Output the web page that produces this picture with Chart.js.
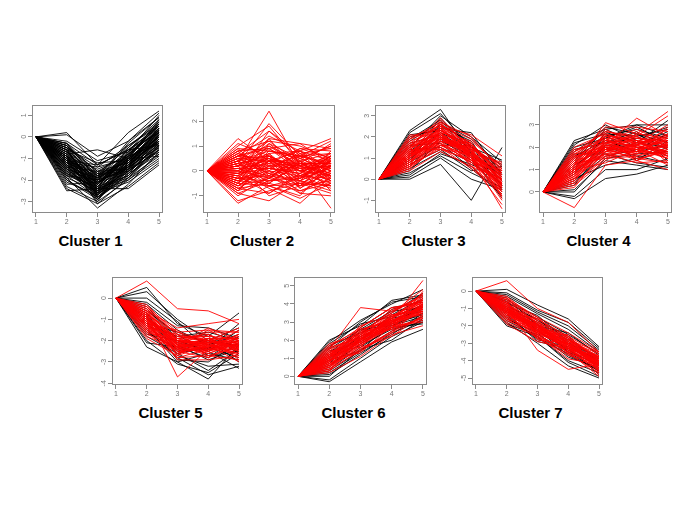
<!DOCTYPE html>
<html>
<head>
<meta charset="utf-8">
<script src="https://cdn.jsdelivr.net/npm/chart.js@4.4.0/dist/chart.umd.min.js"></script>
<style>
  html, body { margin: 0; padding: 0; background: #fff; }
  body { width: 685px; height: 513px; position: relative; overflow: hidden; font-family: "Liberation Sans", Arial, sans-serif; }
  .panel { position: absolute; }
  .title { position: absolute; width: 140px; text-align: center; font-weight: bold; font-size: 15px; line-height: 18px; color: #000; }
</style>
</head>
<body>
<script>
// time points on the x axis (same for every cluster)
const timePoints = [1, 2, 3, 4, 5];

// y tick labels per cluster
const ticks1 = [-3, -2, -1, 0, 1];
const ticks2 = [-1, 0, 1, 2];
const ticks3 = [-1, 0, 1, 2, 3];
const ticks4 = [0, 1, 2, 3];
const ticks5 = [-4, -3, -2, -1, 0];
const ticks6 = [0, 1, 2, 3, 4, 5];
const ticks7 = [-5, -4, -3, -2, -1, 0];

// profiles, one row per gene
const cluster1Black = [
  [0,-1.0,-2.0,-1.2,0.0],[0,-0.5,-1.6,-0.8,0.3],[0,-1.5,-2.5,-1.6,-0.3],[0,-0.8,-2.2,-1.0,0.2],
  [0,-1.2,-1.8,-1.4,-0.5],[0,-0.3,-1.3,-0.6,0.5],[0,-2.0,-2.8,-1.8,-0.6],[0,-0.6,-2.4,-1.1,0.0],
  [0,-1.1,-2.9,-1.5,-0.2],[0,-0.9,-1.5,-0.9,0.4],[0,-1.4,-2.2,-1.0,0.6],[0,-0.4,-1.9,-1.3,-0.4],
  [0,-1.7,-2.6,-1.2,0.1],[0,-0.7,-1.7,-0.5,0.8],[0,-1.3,-2.1,-1.7,-0.8],[0,-2.3,-3.0,-2.0,-1.0],
  [0,-1.0,-3.1,-1.9,-0.4],[0,-0.2,-1.1,-0.7,0.2],[0,0.2,-1.3,0.2,1.2],[0,-2.5,-2.4,-2.4,-1.3],
  [0,-1.9,-3.3,-2.2,-0.7],[0,-0.8,-0.6,-1.0,-0.9],[0,-1.6,-2.0,-0.3,0.9],[0,-0.5,-2.7,-1.4,0.1],
  [0,-1.2,-1.4,-0.4,0.6],[0,-0.9,-2.6,-2.1,-1.1],[0,-1.8,-2.3,-0.8,0.3],[0,-0.6,-1.2,-1.1,-0.3],
  [0,-1.4,-2.9,-1.3,0.4],[0,-1.1,-1.7,-1.6,-0.6],[0,-0.3,-2.0,-0.9,0.7],[0,-2.1,-2.7,-1.5,-0.1],
  [0,-0.7,-2.3,-1.8,-0.5],[0,-1.5,-1.9,-0.6,0.2],[0,-1.0,-2.5,-0.7,1.0],[0,-0.4,-1.6,-1.5,-0.7],
  [0,-1.3,-3.0,-1.0,0.0],[0,-2.2,-2.1,-1.3,-0.2],[0,-0.8,-1.8,-0.4,0.5],[0,-1.6,-2.4,-1.9,-0.9],
  [0,0.1,-0.9,-0.2,0.9],[0,-1.2,-2.6,-1.1,0.3],[0,-0.9,-2.1,-1.4,-0.1],[0,-1.8,-2.8,-1.6,-0.4],
  [0,-0.5,-1.4,-1.0,0.1],[0,-1.1,-2.3,-0.9,0.6],[0,-1.4,-1.6,-1.2,-0.2],[0,-0.6,-2.8,-1.7,-0.3],
  [0,-2.4,-3.1,-2.3,-1.2],[0,-1.0,-1.9,-0.2,1.1],[0,-0.3,-1.7,-1.2,0.0],[0,-1.7,-2.2,-1.1,0.4],
  [0,-0.7,-2.0,-1.6,-0.6],[0,-1.3,-2.4,-0.5,0.7],[0,-1.9,-2.5,-2.0,-0.8],[0,-0.9,-2.7,-1.3,0.2],
  [0,-1.5,-2.1,-1.4,0.0],[0,-0.4,-2.2,-0.8,0.5],[0,-1.1,-1.3,-0.6,-0.4],[0,-2.0,-2.9,-1.7,-0.2],
  [0,-0.9,-1.9,-1.1,0.2],[0,-1.2,-2.3,-1.3,-0.1],[0,-0.6,-1.8,-0.9,0.4],[0,-1.5,-2.6,-1.5,-0.2],
  [0,-0.8,-2.5,-1.2,0.3],[0,-1.3,-2.0,-0.8,0.5],[0,-0.5,-2.1,-1.0,-0.2],[0,-1.1,-2.7,-1.6,0.0],
  [0,-1.7,-2.4,-1.4,-0.5],[0,-0.7,-2.2,-0.7,0.6],[0,-1.0,-2.8,-1.4,0.1],[0,-1.4,-2.3,-0.9,-0.3],
  [0,-0.4,-1.8,-1.1,0.3],[0,-1.6,-2.7,-1.2,0.2],[0,-0.9,-2.4,-1.8,-0.4],[0,-1.2,-1.9,-1.0,0.8],
  [0,-0.6,-2.6,-1.3,-0.1],[0,-1.8,-2.0,-1.5,0.1],[0,-1.0,-2.2,-0.6,0.4],[0,-1.3,-2.8,-1.9,-0.6]
];
const cluster1Red = [];

const cluster2Black = [];
const cluster2Red = [
  [0,0.3,0.5,0.1,0.2],[0,-0.4,0.2,-0.5,0.0],[0,0.6,1.0,0.4,0.7],[0,-0.7,-0.5,-0.8,-0.3],
  [0,0.1,-0.2,0.3,-0.1],[0,1.3,0.4,0.8,1.3],[0,-1.3,-0.6,-1.1,-0.5],[0,0.4,2.4,0.2,0.6],
  [0,-0.2,1.6,0.5,1.0],[0,0.8,-0.3,0.6,-0.4],[0,-0.5,0.7,-0.3,0.4],[0,0.2,1.3,1.1,0.3],
  [0,-0.9,-1.2,-0.4,-0.8],[0,0.5,0.0,-0.6,0.5],[0,-0.1,0.9,0.0,-0.6],[0,0.7,0.3,0.9,0.8],
  [0,-0.6,0.1,0.7,0.1],[0,0.0,-0.7,-1.3,-0.2],[0,1.0,1.8,0.3,1.1],[0,-0.3,-0.4,0.2,-1.5],
  [0,0.3,0.6,-0.2,-0.3],[0,-0.8,0.4,-0.7,0.2],[0,0.9,0.8,0.5,0.0],[0,-0.2,-0.9,-0.1,0.6],
  [0,0.6,1.4,0.8,0.4],[0,-1.0,-0.2,-0.9,-1.0],[0,0.2,0.2,0.6,1.2],[0,-0.5,1.1,0.1,-0.4],
  [0,0.4,-0.5,0.3,0.3],[0,-0.1,0.5,-0.4,0.8],[0,0.8,1.2,1.0,0.5],[0,-0.7,-0.9,-0.2,-0.7],
  [0,0.1,0.3,-0.9,-0.1],[0,0.5,-0.1,0.4,-0.5],[0,-0.4,0.8,0.6,0.7],[0,1.1,0.6,0.0,0.2],
  [0,-0.6,-0.3,-0.6,0.4],[0,0.0,1.0,0.2,-0.2],[0,0.3,-0.6,-0.3,0.1],[0,-0.3,0.0,0.9,0.5],
  [0,0.7,1.6,0.7,0.9],[0,-1.2,-0.8,-0.5,-0.9],[0,0.2,0.7,-0.7,0.0],[0,-0.2,0.4,0.4,-0.8],
  [0,0.6,0.1,-0.1,0.6],[0,-0.5,-0.6,-1.0,0.3],[0,0.4,1.2,0.3,-0.3],[0,-0.8,0.6,0.1,0.2],
  [0,0.9,-0.2,0.8,0.1],[0,0.0,-0.3,0.5,1.0],[0,-0.3,1.3,-0.2,0.4],[0,0.5,0.4,-0.4,-0.6],
  [0,-0.6,0.2,0.3,-0.2],[0,0.2,-1.0,-0.6,-0.4],[0,0.8,0.9,1.1,0.9],[0,-0.1,0.1,0.0,0.3],
  [0,0.3,1.9,0.6,0.2],[0,-0.9,-0.4,-0.3,0.6],[0,0.6,0.5,0.2,-0.1],[0,-0.4,-0.1,-0.8,-0.5],
  [0,0.2,0.4,0.3,0.1],[0,-0.3,-0.2,-0.4,0.2],[0,0.5,0.6,0.0,-0.2],[0,-0.6,0.3,0.2,-0.4],
  [0,0.1,-0.4,-0.2,0.5],[0,0.4,0.8,0.6,0.3],[0,-0.2,0.6,-0.6,-0.1],[0,0.7,0.2,0.1,0.4],
  [0,-0.4,-0.5,0.4,0.0],[0,0.0,0.5,-0.3,0.6],[0,0.3,-0.3,0.7,-0.3],[0,-0.7,0.0,-0.2,0.1],
  [0,0.6,0.9,0.2,0.5],[0,-0.1,-0.6,-0.5,-0.6],[0,0.2,1.1,0.5,0.0],[0,-0.5,0.4,0.0,0.7],
  [0,0.4,-0.1,-0.4,0.2],[0,-0.3,0.7,0.8,-0.2],[0,0.1,0.1,-0.1,-0.5],[0,-0.8,-0.3,0.3,0.3]
];

const cluster3Black = [
  [0,2.3,3.3,1.2,-0.3],[0,2.2,3.1,1.5,0.5],[0,0.0,0.7,-1.0,1.5],[0,0.1,1.0,0.0,-0.5],
  [0,1.8,2.7,1.9,0.6],[0,0.5,1.3,0.6,-0.8],[0,1.2,2.2,1.2,0.0],[0,0.8,1.6,1.6,0.3],
  [0,1.5,3.0,2.0,0.8],[0,0.3,1.1,0.3,-0.4],[0,1.0,1.9,0.9,-0.6],[0,2.0,2.4,2.2,0.2],
  [0,0.6,2.0,1.4,0.7],[0,1.4,1.5,0.8,-0.2],[0,0.9,2.6,1.7,-0.1],[0,1.7,2.1,1.0,0.4],
  [0,0.4,1.8,1.1,-0.9],[0,1.1,2.9,1.3,0.1],[0,2.1,2.3,1.6,-0.5],[0,0.7,1.4,0.4,0.6],
  [0,1.3,2.5,1.8,-0.3],[0,0.2,1.2,0.7,0.0],[0,1.6,1.7,0.5,-0.7],[0,0.9,2.2,1.5,0.9],
  [0,1.9,2.8,1.1,0.2]
];
const cluster3Red = [
  [0,1.1,2.0,1.2,0.0],[0,0.8,1.7,1.0,-0.3],[0,1.4,2.3,1.5,0.3],[0,0.6,1.5,0.8,-0.6],
  [0,1.7,2.6,1.3,-0.1],[0,1.0,1.9,1.6,0.5],[0,1.3,2.1,0.9,-0.4],[0,0.5,1.6,1.1,0.1],
  [0,1.9,2.4,1.7,0.2],[0,1.2,2.8,1.4,-0.8],[0,0.9,1.8,0.7,-1.2],[0,1.5,2.2,1.8,0.6],
  [0,0.7,1.4,1.2,-0.2],[0,2.1,2.0,1.0,-1.4],[0,1.1,2.5,2.1,1.1],[0,0.4,1.3,0.6,0.0],
  [0,1.6,1.9,1.3,-0.5],[0,1.0,2.7,1.1,0.4],[0,1.3,1.6,1.5,-0.9],[0,0.8,2.2,0.9,0.2],
  [0,1.8,2.3,1.6,-0.2],[0,0.6,1.9,1.4,0.7],[0,1.2,1.5,0.5,-0.7],[0,1.4,2.4,1.2,0.0],
  [0,0.9,2.1,1.7,-0.3],[0,1.6,2.6,1.0,0.3],[0,1.1,1.7,0.8,-0.5],[0,0.5,1.8,1.3,-0.1],
  [0,2.0,2.5,1.9,0.5],[0,1.3,2.0,1.1,-1.0],[0,0.7,1.6,1.6,0.1],[0,1.5,2.9,1.4,-0.4],
  [0,1.0,2.2,0.6,-0.6],[0,1.7,2.1,1.2,0.8],[0,1.2,1.8,1.5,0.2],[0,0.8,2.4,1.0,-0.8],
  [0,1.4,1.4,0.9,-0.3],[0,1.9,2.7,2.0,0.4],[0,1.1,2.3,1.3,0.0],[0,0.6,2.0,0.8,-0.2],
  [0,1.0,2.1,1.3,0.1],[0,1.3,2.2,1.0,-0.2],[0,0.8,1.9,1.2,0.3],[0,1.5,2.0,1.4,-0.1],
  [0,1.2,2.4,1.1,-0.4],[0,0.9,1.6,0.9,0.0],[0,1.4,2.6,1.6,0.2],[0,1.1,1.8,1.3,-0.6],
  [0,0.7,2.3,1.5,0.4],[0,1.6,2.2,1.1,-0.3],[0,1.2,1.9,1.7,0.1],[0,1.0,2.5,1.0,-0.2]
];

const cluster4Black = [
  [0,2.3,2.8,3.0,3.0],[0,2.2,2.6,2.5,2.8],[0,-0.3,0.6,0.8,1.2],[0,-0.2,1.0,1.0,1.5],
  [0,2.0,2.4,3.0,2.5],[0,1.5,2.9,2.6,2.2],[0,0.4,1.8,2.2,2.0],[0,1.2,2.0,1.6,1.3],
  [0,0.8,2.2,2.4,2.9],[0,1.8,2.7,2.0,1.8],[0,0.1,1.4,1.2,1.0],[0,1.0,2.5,2.8,2.4],
  [0,1.6,2.3,1.8,2.1],[0,0.5,1.6,1.9,2.6],[0,2.1,3.0,2.3,1.6],[0,0.9,1.9,2.6,1.9],
  [0,1.3,2.6,1.4,2.3],[0,0.3,2.1,2.1,2.7],[0,1.9,2.2,2.7,1.4],[0,0.6,1.2,1.5,2.0],
  [0,1.4,2.8,2.2,3.2],[0,0.0,1.5,1.7,1.8],[0,1.1,2.4,2.9,2.2],[0,1.7,1.7,1.3,1.1]
];
const cluster4Red = [
  [0,1.0,2.0,2.0,2.0],[0,0.7,1.8,1.8,1.7],[0,1.4,2.3,2.2,2.4],[0,0.4,1.5,1.6,1.9],
  [0,1.7,2.5,2.4,2.1],[0,-0.7,1.2,1.4,1.0],[0,1.2,3.1,2.6,3.6],[0,0.9,2.1,3.3,2.5],
  [0,1.6,1.9,1.9,1.5],[0,0.5,2.2,2.1,2.8],[0,2.0,2.6,2.0,1.8],[0,1.1,1.6,1.7,2.2],
  [0,0.3,1.4,2.3,1.6],[0,1.8,2.4,1.5,1.3],[0,0.8,2.7,2.5,3.4],[0,1.3,2.0,2.7,2.0],
  [0,0.6,1.7,1.3,1.4],[0,1.5,2.8,2.1,2.6],[0,1.0,1.3,1.9,1.2],[0,0.2,1.9,2.4,2.3],
  [0,1.9,2.2,1.8,2.9],[0,1.2,2.5,2.3,1.7],[0,0.7,2.1,1.6,2.1],[0,1.4,1.8,2.6,2.4],
  [0,0.9,2.4,1.4,1.9],[0,1.6,2.9,2.9,2.7],[0,0.4,1.6,2.0,1.5],[0,1.1,2.2,1.7,2.6],
  [0,1.3,1.5,2.2,1.8],[0,0.6,2.3,2.8,2.2],[0,1.7,2.0,1.4,2.0],[0,1.0,2.6,2.2,3.0],
  [0,0.8,1.8,2.5,1.3],[0,1.5,2.1,1.9,2.3],[0,0.5,2.0,1.8,2.5],[0,1.2,1.7,2.1,1.6],
  [0,1.8,2.7,2.4,2.2],[0,0.9,1.9,1.5,1.8],
  [0,1.1,2.1,1.9,2.1],[0,0.8,1.9,2.2,1.8],[0,1.3,2.3,2.0,2.3],[0,0.6,1.8,2.1,1.7],
  [0,1.5,2.4,2.3,2.0],[0,1.0,1.7,1.8,2.4],[0,1.2,2.2,2.5,1.9],[0,0.9,2.0,1.7,2.2],
  [0,1.4,2.5,1.9,1.6],[0,0.7,2.2,2.3,2.1],[0,1.6,1.9,2.1,2.5],[0,1.0,2.3,2.0,1.5]
];

const cluster5Black = [
  [0,0.5,-1.2,-1.8,-0.7],[0,0.3,-1.0,-2.0,-1.4],[0,-2.3,-3.0,-3.8,-2.2],[0,-2.0,-3.1,-3.5,-2.6],
  [0,-1.5,-2.8,-3.6,-3.2],[0,-0.3,-1.5,-2.2,-1.7],[0,-1.0,-2.2,-2.9,-2.4],[0,-0.8,-2.5,-2.0,-3.0],
  [0,-1.3,-1.8,-1.6,-2.0],[0,-0.5,-2.0,-2.5,-1.5],[0,-1.8,-2.6,-2.3,-2.8],[0,-0.2,-1.3,-1.4,-1.9],
  [0,-1.1,-2.9,-3.0,-2.1],[0,-0.6,-1.7,-2.7,-2.5],[0,-1.6,-2.4,-1.9,-2.3],[0,-0.9,-2.1,-2.4,-1.2],
  [0,-1.4,-3.0,-2.6,-2.9],[0,-0.4,-1.9,-1.7,-2.6],[0,-2.1,-2.3,-2.8,-1.8],[0,-0.7,-2.7,-3.2,-3.1],
  [0,-1.2,-1.6,-2.1,-2.2],[0,0.0,-1.1,-2.4,-2.0],[0,-1.7,-2.0,-2.5,-3.3],[0,-0.9,-2.6,-3.4,-2.4]
];
const cluster5Red = [
  [0,0.8,-0.5,-0.6,-1.2],[0,-0.8,-3.7,-2.4,-2.0],[0,-1.0,-2.2,-2.1,-2.2],[0,-0.7,-1.9,-1.8,-1.9],
  [0,-1.3,-2.5,-2.4,-2.6],[0,-0.4,-1.6,-1.5,-1.6],[0,-1.6,-2.8,-2.7,-2.9],[0,-0.9,-2.0,-2.3,-1.7],
  [0,-1.2,-2.3,-1.9,-2.4],[0,-0.6,-1.4,-1.2,-1.0],[0,-1.5,-2.6,-2.2,-3.0],[0,-1.1,-2.1,-2.6,-2.1],
  [0,-0.3,-1.8,-2.0,-2.3],[0,-1.8,-2.4,-2.5,-1.8],[0,-0.8,-2.7,-1.7,-2.5],[0,-1.4,-1.7,-2.0,-1.4],
  [0,-1.0,-2.9,-2.9,-2.7],[0,-0.5,-2.2,-1.4,-2.0],[0,-1.2,-1.5,-2.8,-2.2],[0,-0.7,-2.4,-2.1,-2.8],
  [0,-1.6,-2.1,-1.6,-1.6],[0,-0.9,-1.9,-2.4,-2.4],[0,-1.3,-2.6,-1.9,-1.9],[0,-0.4,-2.0,-2.2,-2.6],
  [0,-1.7,-2.3,-2.6,-2.1],[0,-1.1,-1.8,-1.8,-2.9],[0,-0.6,-2.5,-2.3,-1.5],[0,-1.4,-2.2,-2.7,-2.3],
  [0,-0.8,-1.6,-2.0,-1.8],[0,-1.9,-2.7,-2.2,-2.5],[0,-1.0,-2.3,-1.5,-2.2],[0,-0.5,-1.7,-2.5,-2.0],
  [0,-1.2,-2.8,-2.4,-1.7],[0,-1.5,-2.0,-2.1,-2.7],[0,-0.7,-2.2,-1.9,-2.4],[0,-1.1,-2.5,-2.8,-2.0],
  [0,-0.9,-2.4,-2.3,-1.9],[0,-1.3,-1.9,-1.7,-2.3],
  [0,-1.0,-2.1,-2.0,-2.1],[0,-0.8,-2.3,-2.2,-2.3],[0,-1.2,-2.0,-2.3,-2.0],[0,-1.1,-2.4,-2.0,-2.4],
  [0,-0.9,-2.2,-2.4,-2.2],[0,-1.3,-2.3,-2.1,-1.9],[0,-0.7,-2.0,-1.9,-2.5],[0,-1.4,-2.5,-2.3,-2.2],
  [0,-1.0,-1.9,-2.2,-2.6],[0,-1.2,-2.6,-2.1,-2.0],[0,-0.6,-2.1,-2.5,-2.1],[0,-1.5,-2.3,-2.0,-2.4]
];

const cluster6Black = [
  [0,2.0,2.8,4.2,4.5],[0,1.9,3.1,4.0,4.8],[0,-0.3,0.8,1.9,2.6],[0,-0.2,1.0,2.2,3.0],
  [0,1.5,2.6,3.6,3.8],[0,0.3,1.4,2.5,3.3],[0,1.0,2.2,3.0,4.0],[0,0.6,1.8,2.8,3.5],
  [0,1.2,2.0,3.4,4.3],[0,0.1,1.2,2.4,3.1],[0,1.7,2.4,3.2,3.6],[0,0.8,2.7,3.8,4.1],
  [0,0.4,1.6,2.7,2.9],[0,1.4,1.9,2.9,3.4],[0,0.9,2.5,3.5,4.6],[0,0.0,1.5,2.0,3.2],
  [0,1.8,2.9,3.3,3.9],[0,0.5,2.1,3.1,3.7],[0,1.1,1.7,2.6,3.0],[0,1.6,3.0,4.1,4.4],
  [0,0.2,1.3,2.3,3.5],[0,0.7,2.3,3.7,4.2],[0,1.3,2.6,2.8,3.3],[0,0.9,1.4,3.0,3.8]
];
const cluster6Red = [
  [0,0.9,2.0,3.0,3.9],[0,0.6,1.7,2.7,3.6],[0,1.2,2.3,3.3,4.2],[0,0.4,1.4,2.4,3.3],
  [0,1.5,3.8,3.6,4.5],[0,0.8,1.9,3.1,5.3],[0,1.1,2.2,3.4,3.7],[0,0.3,1.5,2.5,4.0],
  [0,1.4,2.5,3.2,4.6],[0,0.7,1.8,2.9,3.5],[0,1.0,2.1,2.6,3.2],[0,1.6,2.7,3.8,4.1],
  [0,0.5,1.6,2.2,3.4],[0,1.3,2.4,3.5,4.8],[0,0.9,1.3,2.8,3.8],[0,0.2,1.1,2.3,2.8],
  [0,1.7,2.6,3.0,3.9],[0,0.6,2.0,3.3,4.3],[0,1.2,1.9,2.7,3.1],[0,0.8,2.4,3.6,4.4],
  [0,1.5,2.2,3.1,3.6],[0,0.4,1.7,2.9,4.0],[0,1.1,2.8,3.4,3.7],[0,0.7,1.4,2.5,3.3],
  [0,1.3,2.0,3.2,4.1],[0,1.0,2.5,2.6,4.7],[0,0.5,1.8,3.0,3.5],[0,1.8,2.3,3.7,4.2],
  [0,0.9,2.1,2.8,3.0],[0,1.4,1.6,3.3,3.8],[0,0.3,2.2,3.5,4.5],[0,1.1,2.6,3.1,3.4],
  [0,0.6,1.5,2.4,3.9],[0,1.2,2.4,2.9,4.3],[0,0.8,1.9,3.4,3.6],[0,1.6,2.1,2.7,3.2],
  [0,1.0,2.7,3.8,4.0],[0,0.5,2.0,3.2,4.4],
  [0,0.9,2.1,3.1,3.8],[0,1.0,1.9,2.9,4.0],[0,0.8,2.0,3.0,3.7],[0,1.1,2.1,3.2,4.1],
  [0,0.7,1.8,2.8,3.9],[0,1.2,2.2,3.0,3.6],[0,0.9,1.9,3.3,4.2],[0,1.0,2.3,3.1,3.8],
  [0,0.6,2.1,2.9,3.6],[0,1.3,2.0,3.2,4.0],[0,0.8,2.2,3.0,4.3],[0,1.1,1.8,2.7,3.9]
];

const cluster7Black = [
  [0,0.1,-0.8,-1.6,-3.2],[0,-0.1,-1.1,-1.8,-3.3],[0,-2.0,-2.6,-4.0,-4.7],[0,-1.8,-3.0,-4.3,-5.0],
  [0,-0.5,-1.5,-2.5,-3.6],[0,-1.2,-2.3,-3.4,-4.3],[0,-0.8,-1.9,-2.8,-3.9],[0,-1.5,-2.7,-3.6,-4.6],
  [0,-0.3,-1.3,-2.2,-3.5],[0,-1.0,-2.1,-3.1,-4.0],[0,-1.6,-2.4,-3.8,-4.4],[0,-0.6,-1.7,-2.6,-4.1],
  [0,-1.3,-2.9,-3.3,-4.8],[0,-0.9,-1.6,-3.0,-3.8],[0,-1.9,-2.5,-3.5,-4.2],[0,-0.4,-2.0,-2.4,-3.7],
  [0,-1.1,-2.2,-3.7,-4.5],[0,-0.7,-1.4,-2.9,-4.3],[0,-1.4,-2.8,-3.2,-3.9],[0,-0.2,-1.2,-2.0,-3.4],
  [0,-1.7,-2.6,-4.1,-4.9],[0,-1.0,-1.8,-2.7,-4.2],[0,-0.6,-2.3,-3.3,-4.0],[0,-1.2,-1.9,-3.5,-4.6]
];
const cluster7Red = [
  [0,0.6,-1.0,-1.8,-3.5],[0,-1.0,-3.4,-4.5,-4.2],[0,-1.0,-2.1,-3.0,-4.1],[0,-0.7,-1.8,-2.7,-3.8],
  [0,-1.3,-2.4,-3.3,-4.4],[0,-0.4,-1.5,-2.4,-3.5],[0,-1.6,-2.7,-3.6,-4.7],[0,-0.9,-2.0,-3.2,-4.0],
  [0,-1.2,-2.3,-2.8,-4.3],[0,-0.6,-1.6,-2.6,-3.6],[0,-1.5,-2.5,-3.5,-4.9],[0,-1.1,-2.2,-3.1,-3.9],
  [0,-0.3,-1.7,-2.9,-4.2],[0,-1.8,-2.6,-3.4,-4.5],[0,-0.8,-2.8,-3.0,-3.7],[0,-1.4,-1.9,-3.6,-4.1],
  [0,-1.0,-2.4,-2.5,-4.6],[0,-0.5,-2.1,-3.3,-3.8],[0,-1.2,-1.6,-2.7,-4.4],[0,-0.7,-2.6,-3.5,-4.0],
  [0,-1.6,-2.2,-2.9,-3.6],[0,-0.9,-1.8,-3.2,-4.8],[0,-1.3,-2.7,-3.7,-4.2],[0,-0.4,-1.9,-2.8,-3.9],
  [0,-1.7,-2.3,-3.1,-4.3],[0,-1.1,-2.0,-3.4,-3.7],[0,-0.6,-2.5,-3.0,-4.5],[0,-1.4,-2.1,-2.6,-4.0],
  [0,-0.8,-1.7,-3.6,-4.1],[0,-1.9,-2.9,-3.3,-4.6],[0,-1.0,-2.3,-2.8,-3.5],[0,-0.5,-1.5,-3.1,-4.4],
  [0,-1.2,-2.6,-3.9,-4.2],[0,-1.5,-2.0,-3.2,-3.8],[0,-0.7,-2.2,-2.7,-4.7],[0,-1.1,-2.5,-3.5,-4.0],
  [0,-0.9,-2.4,-3.0,-4.3],[0,-1.3,-1.9,-3.3,-3.9],
  [0,-1.0,-2.0,-3.0,-4.0],[0,-0.9,-2.2,-3.1,-4.2],[0,-1.1,-2.1,-2.9,-3.9],[0,-1.2,-2.3,-3.2,-4.1],
  [0,-0.8,-1.9,-3.0,-4.3],[0,-1.0,-2.2,-3.3,-4.0],[0,-1.3,-2.1,-3.0,-4.4],[0,-0.9,-2.0,-2.8,-3.8],
  [0,-1.1,-2.4,-3.2,-4.2],[0,-0.7,-2.1,-3.1,-4.1],[0,-1.2,-1.9,-3.0,-4.5],[0,-1.0,-2.3,-3.4,-4.0]
];

// layout: plot box in page pixels [left, top, width, height] and y range
const panels = [
  { name: 'Cluster 1', black: cluster1Black, red: cluster1Red, ticks: ticks1, ymin: -3.53, ymax: 1.47, box: [32, 100, 131, 113] },
  { name: 'Cluster 2', black: cluster2Black, red: cluster2Red, ticks: ticks2, ymin: -1.69, ymax: 2.64, box: [203, 100, 132, 113] },
  { name: 'Cluster 3', black: cluster3Black, red: cluster3Red, ticks: ticks3, ymin: -1.6, ymax: 3.5, box: [375, 100, 131, 113] },
  { name: 'Cluster 4', black: cluster4Black, red: cluster4Red, ticks: ticks4, ymin: -0.94, ymax: 3.88, box: [539, 100, 133, 113] },
  { name: 'Cluster 5', black: cluster5Black, red: cluster5Red, ticks: ticks5, ymin: -4.08, ymax: 0.98, box: [112, 272, 131, 113] },
  { name: 'Cluster 6', black: cluster6Black, red: cluster6Red, ticks: ticks6, ymin: -0.48, ymax: 5.48, box: [294, 272, 133, 113] },
  { name: 'Cluster 7', black: cluster7Black, red: cluster7Red, ticks: ticks7, ymin: -5.4, ymax: 0.8, box: [472, 272, 131, 113] }
];

const Y_AXIS_W = 16;
const X_AXIS_H = 18;

const boxPlugin = {
  id: 'plotBox',
  afterDraw(chart) {
    const { ctx, chartArea: a } = chart;
    ctx.save();
    ctx.strokeStyle = '#8a8a8a';
    ctx.lineWidth = 1;
    ctx.strokeRect(Math.round(a.left) + 0.5, Math.round(a.top) + 0.5, Math.round(a.width) - 1, Math.round(a.height) - 1);
    ctx.restore();
  }
};

function toPoints(row) {
  return row.map((v, i) => ({ x: timePoints[i], y: v }));
}

function lineSet(row, color) {
  return {
    data: toPoints(row),
    borderColor: color,
    borderWidth: 0.9,
    pointRadius: 0,
    tension: 0,
    fill: false
  };
}

panels.forEach(p => {
  const [left, top, w, h] = p.box;
  const div = document.createElement('div');
  div.className = 'panel';
  div.style.left = (left - Y_AXIS_W) + 'px';
  div.style.top = top + 'px';
  div.style.width = (w + Y_AXIS_W) + 'px';
  div.style.height = (h + X_AXIS_H) + 'px';
  const canvas = document.createElement('canvas');
  div.appendChild(canvas);
  document.body.appendChild(div);

  const title = document.createElement('div');
  title.className = 'title';
  title.textContent = p.name;
  title.style.left = (left + w / 2 - 7 - 70) + 'px';
  title.style.top = (top + h + 19) + 'px';
  document.body.appendChild(title);

  // red first so it is painted on top of the black profiles
  const datasets = p.red.map(r => lineSet(r, '#ff0000')).concat(p.black.map(r => lineSet(r, '#000000')));

  const tickFont = { family: 'Liberation Sans', size: 7 };
  new Chart(canvas, {
    type: 'line',
    data: { datasets },
    options: {
      responsive: true,
      maintainAspectRatio: false,
      animation: false,
      events: [],
      layout: { padding: 0 },
      plugins: { legend: { display: false }, tooltip: { enabled: false }, title: { display: false } },
      scales: {
        x: {
          type: 'linear',
          min: 0.87,
          max: 5.13,
          afterBuildTicks: s => { s.ticks = timePoints.map(v => ({ value: v })); },
          afterFit: s => { s.height = X_AXIS_H; },
          border: { display: false },
          grid: { drawOnChartArea: false, drawTicks: true, tickLength: 4, color: '#8a8a8a' },
          ticks: { font: tickFont, color: '#777', padding: 1, maxRotation: 0 }
        },
        y: {
          type: 'linear',
          min: p.ymin,
          max: p.ymax,
          afterBuildTicks: s => { s.ticks = p.ticks.map(v => ({ value: v })); },
          afterFit: s => { s.width = Y_AXIS_W; },
          border: { display: false },
          grid: { drawOnChartArea: false, drawTicks: true, tickLength: 4, color: '#8a8a8a' },
          ticks: { font: tickFont, color: '#777', padding: 1, minRotation: 90, maxRotation: 90, crossAlign: 'center' }
        }
      }
    },
    plugins: [boxPlugin]
  });
});
</script>
</body>
</html>
